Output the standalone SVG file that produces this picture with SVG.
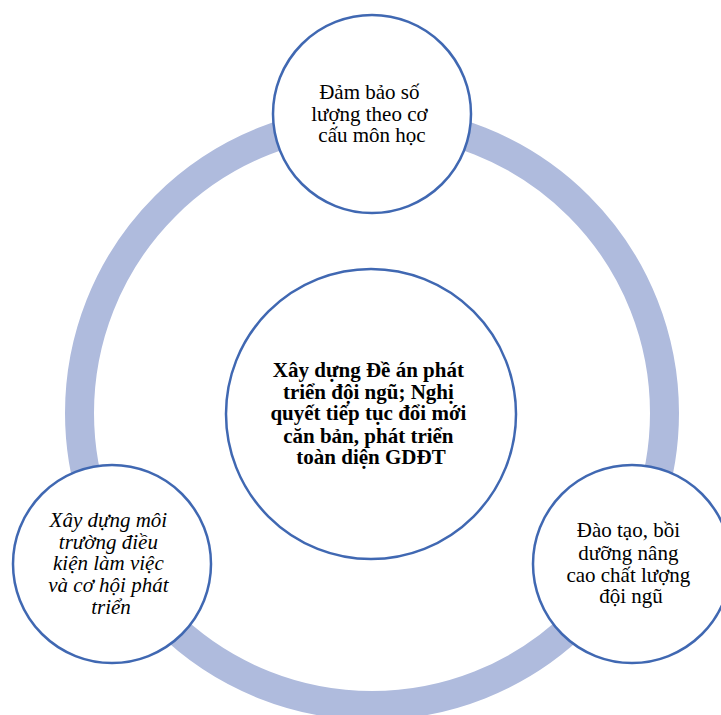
<svg xmlns="http://www.w3.org/2000/svg" width="721" height="715" viewBox="0 0 721 715">
<style>
.node{fill:#FFFFFF;stroke:#4068B2;stroke-width:2.5}
.t{font-family:"Liberation Serif","Times New Roman",serif;font-size:21px;fill:#000000;text-anchor:middle}
.b{font-weight:bold}
.i{font-style:italic}
</style>
<rect width="721" height="715" fill="#FFFFFF"/>
<g id="connectors">
<circle cx="372" cy="413" r="292.5" fill="none" stroke="#AFBBDD" stroke-width="29"/>
</g>
<g id="center">
<circle class="node" cx="371" cy="414" r="145"/>
<text class="t b" x="371">
<tspan x="371" y="377">Xây dựng Đề án phát</tspan>
<tspan x="371" y="398.5">triển đội ngũ; Nghị</tspan>
<tspan x="371" y="420">quyết tiếp tục đổi mới</tspan>
<tspan x="371" y="442.5">căn bản, phát triển</tspan>
<tspan x="371" y="464">toàn diện GDĐT</tspan>
</text>
</g>
<g id="top">
<circle class="node" cx="372" cy="114" r="99"/>
<text class="t">
<tspan x="372" y="99">Đảm bảo số</tspan>
<tspan x="372" y="120.5">lượng theo cơ</tspan>
<tspan x="372" y="142">cấu môn học</tspan>
</text>
</g>
<g id="bottom-right">
<circle class="node" cx="632" cy="564" r="99"/>
<text class="t">
<tspan x="631" y="537">Đào tạo, bồi</tspan>
<tspan x="631" y="559.5">dưỡng nâng</tspan>
<tspan x="631" y="581.5">cao chất lượng</tspan>
<tspan x="631" y="603">đội ngũ</tspan>
</text>
</g>
<g id="bottom-left">
<circle class="node" cx="112" cy="564" r="99"/>
<text class="t i">
<tspan x="111" y="527">Xây dựng môi</tspan>
<tspan x="111" y="548.5">trường điều</tspan>
<tspan x="111" y="570">kiện làm việc</tspan>
<tspan x="111" y="592">và cơ hội phát</tspan>
<tspan x="111" y="614">triển</tspan>
</text>
</g>
</svg>
